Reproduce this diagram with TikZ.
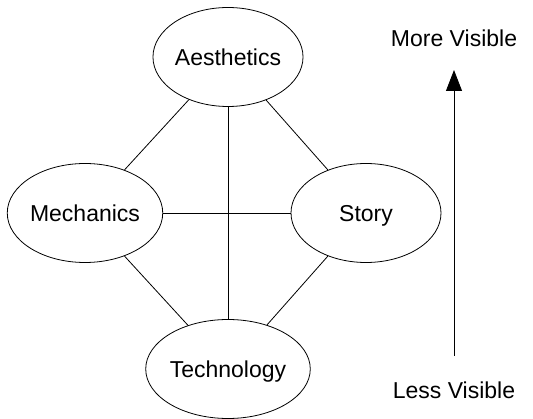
\documentclass[tikz,border=0pt]{standalone}
\usepackage{fontspec}
\setmainfont{Liberation Sans}
\usetikzlibrary{shapes.geometric, arrows.meta, positioning}

\begin{document}
\begin{tikzpicture}[x=1pt, y=-1pt,
        lens/.style={ellipse, draw, line width=0.8pt, minimum width=150pt, minimum height=99pt, inner sep=0pt, text height=17pt, text depth=0pt, font=\fontsize{23}{27}\selectfont},
        tag/.style={inner sep=0pt, font=\fontsize{23}{27}\selectfont},
        link/.style={-, line width=0.8pt},
        rise/.style={-{Triangle[width=16pt, length=21pt]}, line width=0.9pt}
    ]
        \useasboundingbox (0,0) rectangle (533,419);

        % Four lenses
        \node[lens] (aes) at (228,57) {Aesthetics};
        \node[lens] (mech) at (85,213) {Mechanics};
        \node[lens] (story) at (366,213) {Story};
        \node[lens] (tech) at (228,369) {Technology};

        \draw[link] (aes) -- (mech);
        \draw[link] (aes) -- (story);
        \draw[link] (aes) -- (tech);
        \draw[link] (mech) -- (story);
        \draw[link] (mech) -- (tech);
        \draw[link] (story) -- (tech);

        % Visibility scale
        \node[tag] (more) at (454,38) {More Visible};
        \node[tag] (less) at (454,390) {Less Visible};
        \coordinate (low) at (454,356);
        \coordinate (high) at (454,70);
        \draw[rise] (low) -- (high);
    \end{tikzpicture}
\end{document}
